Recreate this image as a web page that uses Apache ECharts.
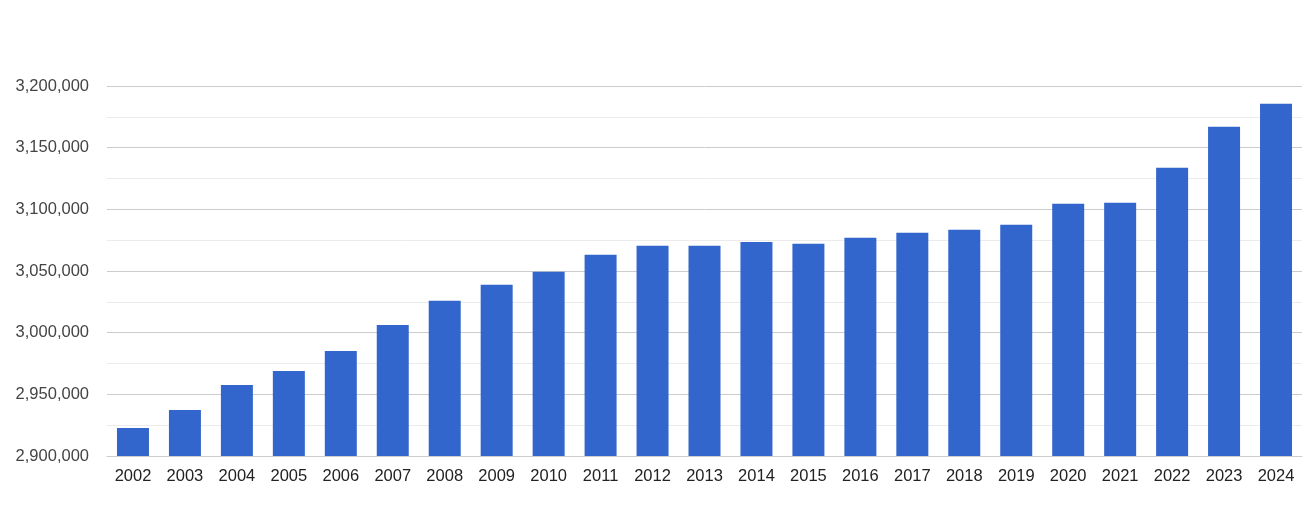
<!DOCTYPE html>
<html>
<head>
<meta charset="utf-8">
<script src="https://cdn.jsdelivr.net/npm/echarts@6/dist/echarts.min.js"></script>
<style>html,body{margin:0;padding:0;background:#fff}#c{width:1305px;height:510px}</style>
</head>
<body>
<div id="c"></div>
<script>
const years = ['2002','2003','2004','2005','2006','2007','2008','2009','2010','2011','2012','2013','2014','2015','2016','2017','2018','2019','2020','2021','2022','2023','2024'];
const population = [2922700,2937300,2957600,2969000,2985200,3006300,3025800,3038800,3049300,3063100,3070400,3070400,3073600,3072000,3076900,3081000,3083400,3087500,3104500,3105300,3133700,3167000,3185600];
const yMin = 2900000, yMax = 3200000, yStep = 50000;

const chart = echarts.init(document.getElementById('c'));
chart.setOption({
  animation: false,
  grid: { left: 107, right: 3, top: 86, bottom: 54, containLabel: false },
  xAxis: {
    type: 'category',
    data: years,
    axisLine: { show: true, lineStyle: { color: '#cccccc' } },
    axisTick: { show: false },
    axisLabel: { color: '#222', fontSize: 16.5, fontFamily: 'Liberation Sans, Arial, sans-serif', margin: 12 }
  },
  yAxis: {
    type: 'value',
    min: yMin, max: yMax, interval: yStep,
    axisLine: { show: false },
    axisTick: { show: false },
    axisLabel: {
      color: '#444', fontSize: 16.5, fontFamily: 'Liberation Sans, Arial, sans-serif', margin: 18,
      lineHeight: 20, padding: [4, 0, 0, 0],
      formatter: v => v.toLocaleString('en-US')
    },
    splitLine: { lineStyle: { color: '#cccccc' } },
    minorTick: { show: false, splitNumber: 2 },
    minorSplitLine: { show: true, lineStyle: { color: '#ebebeb' } }
  },
  series: [{
    type: 'bar',
    data: population,
    barWidth: 32,
    itemStyle: { color: '#3366cc' }
  }]
});
</script>
</body>
</html>
